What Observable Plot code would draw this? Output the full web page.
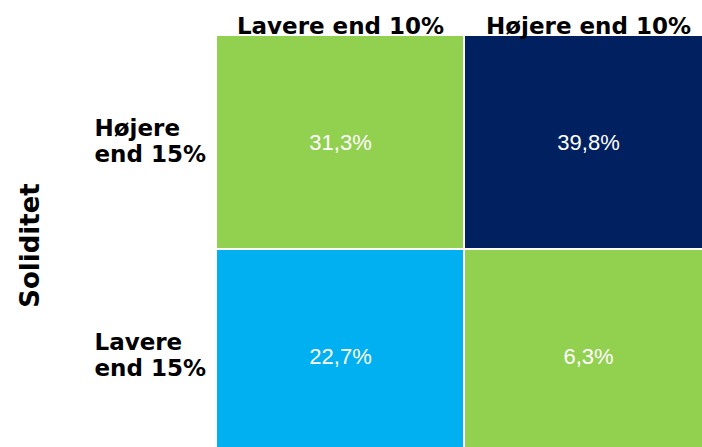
<!DOCTYPE html>
<html>
<head>
<meta charset="utf-8">
<script src="https://cdn.jsdelivr.net/npm/d3@7"></script>
<script src="https://cdn.jsdelivr.net/npm/@observablehq/plot@0.6"></script>
<style>
  html, body { margin: 0; padding: 0; background: #fff; overflow: hidden; }
  #chart { width: 702px; height: 447px; overflow: hidden; }
  #chart svg { max-width: none !important; }
</style>
</head>
<body>
<div id="chart"></div>
<script>
// Column categories (top), row categories (left)
const columns = ["Lavere end 10%", "Højere end 10%"];
const rows = ["Højere end 15%", "Lavere end 15%"];
// Cell data
const cellColumn = ["Lavere end 10%", "Højere end 10%", "Lavere end 10%", "Højere end 10%"];
const cellRow = ["Højere end 15%", "Højere end 15%", "Lavere end 15%", "Lavere end 15%"];
const cellValue = [31.3, 39.8, 22.7, 6.3];
const cellGroup = ["blandet", "høj", "lav", "blandet"];
const groups = ["blandet", "høj", "lav"];
const groupColors = ["#92D050", "#002060", "#00B0F0"];
const yTitle = "Soliditet";

const cells = cellValue.map((v, i) => ({
  col: cellColumn[i], row: cellRow[i], value: v, group: cellGroup[i]
}));
const fmt = v => v.toFixed(1).replace(".", ",") + "%";

const chart = Plot.plot({
  width: 712,
  height: 462,
  marginLeft: 216,
  marginRight: 0,
  marginTop: 36,
  marginBottom: 0,
  style: { background: "#fff", maxWidth: "none" },
  x: { domain: columns, paddingInner: 0.008, paddingOuter: 0, axis: null },
  y: { domain: rows, paddingInner: 0.0095, paddingOuter: 0, axis: null },
  color: { domain: groups, range: groupColors },
  marks: [
    Plot.cell(cells, { x: "col", y: "row", fill: "group", inset: 0 }),
    Plot.text(cells, {
      x: "col", y: "row", text: d => fmt(d.value),
      fill: "white", fontSize: 22, fontFamily: "Liberation Sans, Arial, sans-serif",
      dy: 0
    }),
    Plot.axisX({
      anchor: "top", tickSize: 0, tickPadding: 3, label: null,
      fontSize: 23, fontWeight: "bold", fill: "#000",
      fontFamily: "DejaVu Sans, Verdana, sans-serif"
    }),
    Plot.axisY({
      anchor: "left", tickSize: 0, tickPadding: 0, textAnchor: "start",
      dx: -122, dy: -2, lineHeight: 1.15,
      tickFormat: d => d.replace(" ", "\n"),
      fontSize: 23, fontWeight: "bold", fill: "#000",
      fontFamily: "DejaVu Sans, Verdana, sans-serif",
      label: null
    }),
    Plot.text([yTitle], {
      frameAnchor: "left", text: d => d, rotate: -90, textAnchor: "middle",
      dx: -186, dy: -4,
      fontSize: 26, fontWeight: "bold", fill: "#000",
      fontFamily: "DejaVu Sans, Verdana, sans-serif"
    })
  ]
});
document.getElementById("chart").appendChild(chart);
</script>
</body>
</html>
